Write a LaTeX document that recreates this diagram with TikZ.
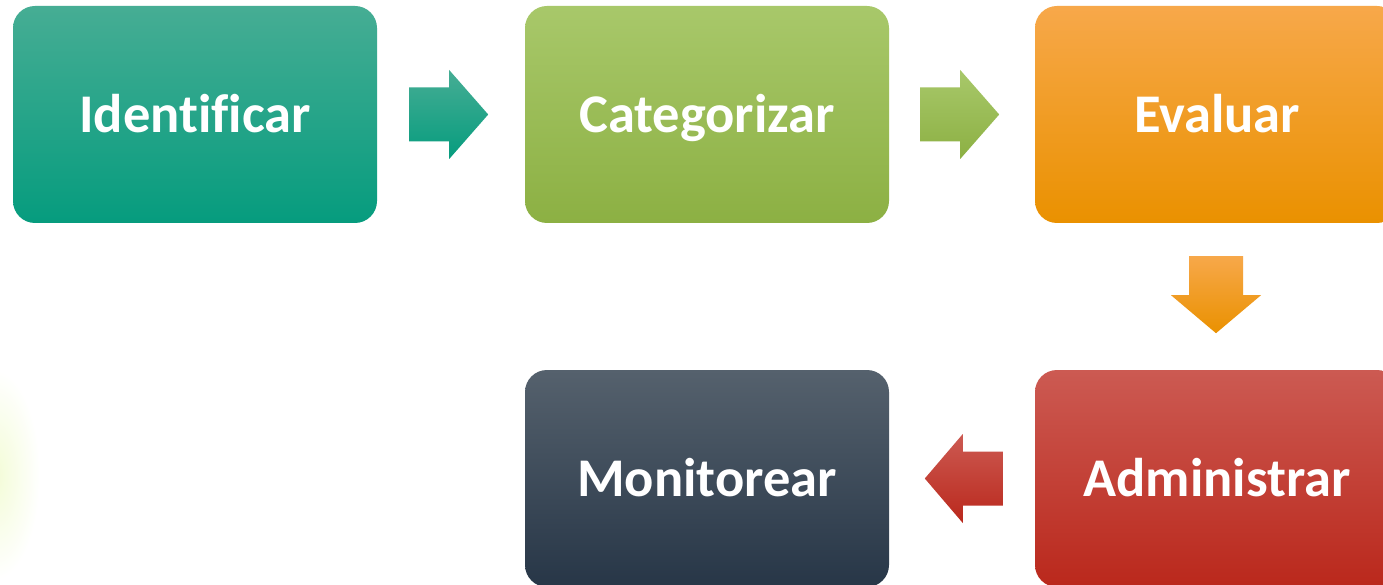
\documentclass[tikz,border=0pt]{standalone}
\usepackage{fontspec}
\setmainfont{Carlito}[Ligatures=NoCommon]
\usetikzlibrary{calc}
\definecolor{tealT}{HTML}{46AD94}
\definecolor{tealM}{HTML}{12A68A}
\definecolor{tealB}{HTML}{069C7E}
\definecolor{grnT}{HTML}{A8C86A}
\definecolor{grnM}{HTML}{9CC152}
\definecolor{grnB}{HTML}{8CB043}
\definecolor{orgT}{HTML}{F7A84A}
\definecolor{orgM}{HTML}{FDA00E}
\definecolor{orgB}{HTML}{EA9100}
\definecolor{redT}{HTML}{CC5A52}
\definecolor{redM}{HTML}{C3342A}
\definecolor{redB}{HTML}{BA281C}
\definecolor{drkT}{HTML}{55616D}
\definecolor{drkM}{HTML}{2F3F53}
\definecolor{drkB}{HTML}{273647}
\definecolor{glowc}{HTML}{F3FCD6}
\begin{document}
\begin{tikzpicture}[x=1pt,y=1pt,
  box/.style={rectangle, rounded corners=22pt, minimum width=364pt, minimum height=217pt,
    inner sep=0pt, text=white, font=\fontsize{54.5}{65}\selectfont\bfseries,
    text height=36pt, text depth=0pt},
  teal/.style={top color=tealT, middle color=tealM, bottom color=tealB},
  grn/.style={top color=grnT, middle color=grnM, bottom color=grnB},
  org/.style={top color=orgT, middle color=orgM, bottom color=orgB},
  rd/.style={top color=redT, middle color=redM, bottom color=redB},
  drk/.style={top color=drkT, middle color=drkM, bottom color=drkB}]
\useasboundingbox (0,0) rectangle (1383,-585);
\clip (0,0) rectangle (1383,-585);
\fill[white] (0,0) rectangle (1383,-585);
% faint glow at left edge
\shade[inner color=glowc, outer color=white] (-5,-475) ellipse [x radius=45, y radius=105];
% boxes
\node[box, teal] (id)  at (195,-114.5)  {Identificar};
\node[box, grn]  (cat) at (707,-114.5)  {Categorizar};
\node[box, org]  (ev)  at (1217,-114.5) {Evaluar};
\node[box, drk]  (mon) at (707,-478.5)  {Monitorear};
\node[box, rd]   (adm) at (1217,-478.5) {Administrar};
% arrow anchors
\coordinate (a1) at ($(id.east)+(32,0)$);
\coordinate (a2) at ($(cat.east)+(31,0)$);
\coordinate (a3) at ($(ev.south)+(-1,-33)$);
\coordinate (a4) at ($(adm.west)+(-32,0)$);
% block arrows
\begin{scope}[shift={(a1)}]
  \shade[teal] (0,27) -- (40,27) -- (40,44.5) -- (79,0) -- (40,-44.5) -- (40,-27) -- (0,-27) -- cycle;
\end{scope}
\begin{scope}[shift={(a2)}]
  \shade[grn] (0,27) -- (40,27) -- (40,44.5) -- (79,0) -- (40,-44.5) -- (40,-27) -- (0,-27) -- cycle;
\end{scope}
\begin{scope}[shift={(a3)}]
  \shade[org] (-27,0) -- (27,0) -- (27,-39) -- (45,-39) -- (0,-77) -- (-45,-39) -- (-27,-39) -- cycle;
\end{scope}
\begin{scope}[shift={(a4)}]
  \shade[rd] (0,27) -- (-40,27) -- (-40,44.5) -- (-78,0) -- (-40,-44.5) -- (-40,-27) -- (0,-27) -- cycle;
\end{scope}
\end{tikzpicture}
\end{document}
